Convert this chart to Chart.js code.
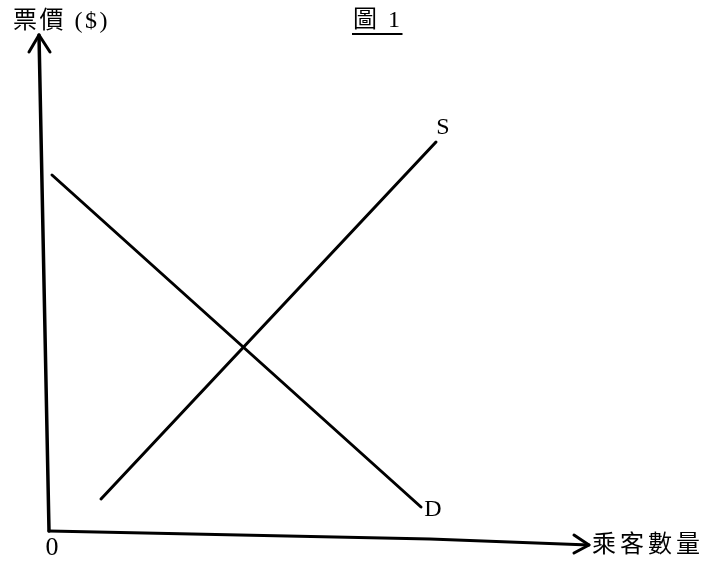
<!DOCTYPE html>
<html>
<head>
<meta charset="utf-8">
<title>圖 1</title>
<script src="https://cdn.jsdelivr.net/npm/chart.js@4.4.1/dist/chart.umd.min.js"></script>
<style>
    html, body { margin: 0; padding: 0; background: #ffffff; }
    #cadre { width: 701px; height: 562px; position: relative; }
</style>
</head>
<body>
<div id="cadre"><canvas id="graphique"></canvas></div>
<script>
// Courbe d'offre S (quantité, prix)
const offreQuantite = [52, 387];
const offrePrix = [32, 389];

// Courbe de demande D
const demandeQuantite = [3, 372];
const demandePrix = [356, 24];

// Axes tels que scannés (légèrement penchés)
const axeVerticalX = [0, -10];
const axeVerticalY = [0, 496];
const axeHorizontalX = [0, 381, 540];
const axeHorizontalY = [0, -8, -14];

// Pointes de flèche
const flecheHautX = [-20, -10, 1];
const flecheHautY = [479, 496, 479];
const flecheDroiteX = [525, 540, 525];
const flecheDroiteY = [-4, -14, -22];

// Textes
const titre = "圖 1";
const titreAxeY = "票價 ($)";
const titreAxeX = "乘客數量";
const etiquetteOffre = "S";
const etiquetteDemande = "D";
const origine = "0";

function points(xs, ys) {
    const resultat = [];
    for (let i = 0; i < xs.length; i++) {
        resultat.push({ x: xs[i], y: ys[i] });
    }
    return resultat;
}

function serie(label, xs, ys, epaisseur) {
    return {
        label: label,
        data: points(xs, ys),
        showLine: true,
        borderColor: "#000000",
        borderWidth: epaisseur,
        pointRadius: 0,
        borderCapStyle: "round",
        borderJoinStyle: "round",
        tension: 0,
    };
}

// police : latin en serif, caractères chinois en repli sur Noto CJK
const policeTexte = "'Liberation Serif', 'Noto Sans CJK TC'";

// Textes placés via les échelles du graphique
const textes = [
    { texte: titreAxeY, x: -36, y: 509, taille: 24, align: "left", souligne: false, espace: 2.5 },
    { texte: titre, x: 304, y: 510, taille: 24, align: "left", souligne: true, espace: 2.5 },
    { texte: etiquetteOffre, x: 394, y: 403, taille: 24, align: "center", souligne: false },
    { texte: etiquetteDemande, x: 384, y: 21, taille: 24, align: "center", souligne: false },
    { texte: origine, x: 3, y: -17, taille: 26, align: "center", souligne: false },
    { texte: titreAxeX, x: 543, y: -15, taille: 24, align: "left", souligne: false, espace: 4 },
];

const pluginTextes = {
    id: "textes",
    afterDraw(chart) {
        const ctx = chart.ctx;
        const echelleX = chart.scales.x;
        const echelleY = chart.scales.y;
        ctx.save();
        ctx.fillStyle = "#000000";
        ctx.strokeStyle = "#000000";
        ctx.textBaseline = "middle";
        for (let t of textes) {
            const px = echelleX.getPixelForValue(t.x);
            const py = echelleY.getPixelForValue(t.y);
            ctx.font = t.taille + "px " + policeTexte;
            ctx.textAlign = t.align;
            ctx.letterSpacing = (t.espace || 0) + "px";
            ctx.fillText(t.texte, px, py);
            if (t.souligne) {
                const largeur = ctx.measureText(t.texte).width;
                ctx.lineWidth = 2;
                ctx.beginPath();
                ctx.moveTo(px - 1, py + 13);
                ctx.lineTo(px + largeur, py + 13);
                ctx.stroke();
            }
        }
        ctx.restore();
    }
};

const data = {
    datasets: [
        serie("S", offreQuantite, offrePrix, 3),
        serie("D", demandeQuantite, demandePrix, 3),
        serie("axe prix", axeVerticalX, axeVerticalY, 3.5),
        serie("axe quantité", axeHorizontalX, axeHorizontalY, 3),
        serie("flèche prix", flecheHautX, flecheHautY, 3),
        serie("flèche quantité", flecheDroiteX, flecheDroiteY, 3),
    ],
};

const config = {
    type: "scatter",
    data: data,
    options: {
        responsive: true,
        maintainAspectRatio: false,
        animation: false,
        layout: { padding: 0 },
        plugins: {
            legend: { display: false },
            tooltip: { enabled: false },
        },
        scales: {
            x: { type: "linear", min: -49, max: 652, display: false },
            y: { type: "linear", min: -31, max: 531, display: false },
        },
    },
    plugins: [pluginTextes],
};

const graphique = new Chart(document.querySelector("#graphique"), config);
</script>
</body>
</html>
